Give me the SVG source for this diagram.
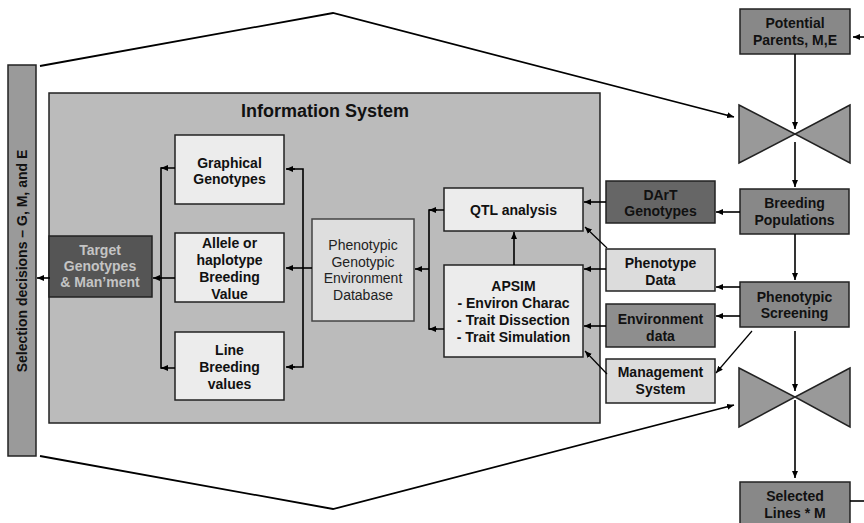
<svg xmlns="http://www.w3.org/2000/svg" width="864" height="523" viewBox="0 0 864 523">
<defs>
<marker id="ah" markerWidth="7" markerHeight="6" refX="7" refY="3" orient="auto" markerUnits="userSpaceOnUse">
<path d="M0,0 L7,3 L0,6 z" fill="#000"/>
</marker>
<style>
.b{stroke:#222;stroke-width:1.5}
.t{font-family:"Liberation Sans",Arial,sans-serif;font-size:14px;font-weight:bold;fill:#111;text-anchor:middle}
.n{font-weight:normal;fill:#222}
.c{fill:none;stroke:#000;stroke-width:1.6}
.a{marker-end:url(#ah)}
</style>
</defs>
<rect width="864" height="523" fill="#fff"/>
<g id="connectors">
<polyline class="c" points="40,66 333,13 734,117" style="stroke-width:1.8" marker-end="url(#ah)"/>
<polyline class="c" points="40,456 333,509 734,405" style="stroke-width:1.8" marker-end="url(#ah)"/>
</g>
<g id="selection-bar">
<rect x="8" y="65" width="28" height="391" fill="#9a9a9a" class="b"/>
<text class="t" transform="translate(27,261) rotate(-90)">Selection decisions – G, M, and E</text>
</g>
<g id="information-system">
<rect x="49" y="93" width="551" height="330" fill="#bbbbbb" class="b"/>
<text class="t" x="325" y="117" style="font-size:18px">Information System</text>
</g>
<g id="target">
<rect x="49" y="236" width="103" height="61" fill="#555" class="b"/>
<text class="t" x="100" y="255" style="fill:#c4c4c4">Target</text>
<text class="t" x="100" y="271" style="fill:#c4c4c4">Genotypes</text>
<text class="t" x="100" y="287" style="fill:#c4c4c4">&amp; Man’ment</text>
</g>
<g id="graphical-genotypes">
<rect x="175" y="135" width="109" height="69" fill="#ececec" class="b"/>
<text class="t" x="229.5" y="168">Graphical</text>
<text class="t" x="229.5" y="184">Genotypes</text>
</g>
<g id="allele">
<rect x="175" y="233" width="109" height="69" fill="#ececec" class="b"/>
<text class="t" x="229.5" y="248">Allele or</text>
<text class="t" x="229.5" y="265">haplotype</text>
<text class="t" x="229.5" y="282">Breeding</text>
<text class="t" x="229.5" y="299">Value</text>
</g>
<g id="line-breeding">
<rect x="175" y="332" width="109" height="68" fill="#ececec" class="b"/>
<text class="t" x="229.5" y="355">Line</text>
<text class="t" x="229.5" y="372">Breeding</text>
<text class="t" x="229.5" y="389">values</text>
</g>
<g id="database">
<rect x="312" y="219" width="102" height="102" fill="#dedede" class="b" style="stroke:#444"/>
<text class="t n" x="363" y="250">Phenotypic</text>
<text class="t n" x="363" y="267">Genotypic</text>
<text class="t n" x="363" y="283">Environment</text>
<text class="t n" x="363" y="300">Database</text>
</g>
<g id="qtl">
<rect x="444" y="188" width="139" height="43" fill="#ececec" class="b"/>
<text class="t" x="513.5" y="215">QTL analysis</text>
</g>
<g id="apsim">
<rect x="444" y="265" width="139" height="92" fill="#ececec" class="b"/>
<text class="t" x="513.5" y="291">APSIM</text>
<text class="t" x="513.5" y="308">- Environ Charac</text>
<text class="t" x="513.5" y="325">- Trait Dissection</text>
<text class="t" x="513.5" y="342">- Trait Simulation</text>
</g>
<g id="dart">
<rect x="606" y="181" width="109" height="42" fill="#666" class="b"/>
<text class="t" x="660.5" y="200">DArT</text>
<text class="t" x="660.5" y="216">Genotypes</text>
</g>
<g id="phenotype-data">
<rect x="606" y="249" width="109" height="42" fill="#dcdcdc" class="b"/>
<text class="t" x="660.5" y="268">Phenotype</text>
<text class="t" x="660.5" y="285">Data</text>
</g>
<g id="environment-data">
<rect x="606" y="304" width="109" height="43" fill="#8e8e8e" class="b"/>
<text class="t" x="660.5" y="324">Environment</text>
<text class="t" x="660.5" y="341">data</text>
</g>
<g id="management-system">
<rect x="606" y="359" width="109" height="44" fill="#dcdcdc" class="b"/>
<text class="t" x="660.5" y="377">Management</text>
<text class="t" x="660.5" y="394">System</text>
</g>
<g id="potential-parents">
<rect x="740" y="9" width="110" height="45" fill="#888" class="b"/>
<text class="t" x="795" y="28">Potential</text>
<text class="t" x="795" y="45">Parents, M,E</text>
</g>
<g id="crossing">
<path d="M739,105 L795,134 L739,163 Z M850,105 L795,134 L850,163 Z" fill="#999" class="b"/>
</g>
<g id="breeding-populations">
<rect x="740" y="189" width="109" height="45" fill="#888" class="b"/>
<text class="t" x="794.5" y="208">Breeding</text>
<text class="t" x="794.5" y="225">Populations</text>
</g>
<g id="phenotypic-screening">
<rect x="740" y="282" width="109" height="45" fill="#888" class="b"/>
<text class="t" x="794.5" y="302">Phenotypic</text>
<text class="t" x="794.5" y="318">Screening</text>
</g>
<g id="selection">
<path d="M739,368 L795,397 L739,427 Z M850,368 L795,397 L850,427 Z" fill="#999" class="b"/>
</g>
<g id="selected-lines">
<rect x="740" y="482" width="110" height="45" fill="#888" class="b"/>
<text class="t" x="795" y="501">Selected</text>
<text class="t" x="795" y="518">Lines * M</text>
</g>
<g id="connectors2">
<line class="c a" x1="50" y1="278" x2="37" y2="278"/>
<polyline class="c" points="175,168 161,168 161,368 175,368"/>
<line class="c a" x1="168" y1="168" x2="161" y2="168"/>
<line class="c a" x1="168" y1="368" x2="161" y2="368"/>
<line class="c a" x1="175" y1="278" x2="153" y2="278"/>
<polyline class="c" points="287,169 303,169 303,367 287,367"/>
<line class="c a" x1="295" y1="169" x2="286" y2="169"/>
<line class="c a" x1="295" y1="367" x2="286" y2="367"/>
<line class="c a" x1="312" y1="268" x2="286" y2="268"/>
<polyline class="c" points="444,210 429,210 429,329 444,329"/>
<line class="c a" x1="437" y1="210" x2="429" y2="210"/>
<line class="c a" x1="437" y1="329" x2="429" y2="329"/>
<line class="c a" x1="429" y1="269" x2="415" y2="269"/>
<line class="c a" x1="514" y1="265" x2="514" y2="232"/>
<line class="c a" x1="606" y1="202" x2="584" y2="202"/>
<line class="c a" x1="607" y1="248" x2="585" y2="227" style="stroke-width:1.2"/>
<line class="c a" x1="606" y1="269" x2="584" y2="269"/>
<line class="c a" x1="606" y1="326" x2="584" y2="326"/>
<line class="c a" x1="607" y1="374" x2="585" y2="351" style="stroke-width:1.2"/>
<line class="c a" x1="740" y1="212" x2="716" y2="212"/>
<line class="c a" x1="740" y1="287" x2="716" y2="287"/>
<line class="c a" x1="740" y1="316" x2="716" y2="316"/>
<line class="c a" x1="752" y1="331" x2="716" y2="373" style="stroke-width:1.2"/>
<line class="c a" x1="864" y1="37" x2="853" y2="37"/>
<line class="c a" x1="795" y1="54" x2="795" y2="129"/>
<line class="c a" x1="795" y1="142" x2="795" y2="187"/>
<line class="c a" x1="795" y1="234" x2="795" y2="280"/>
<line class="c a" x1="795" y1="331" x2="795" y2="391"/>
<line class="c a" x1="795" y1="400" x2="795" y2="478"/>
<line class="c" x1="850" y1="501" x2="864" y2="501"/>
</g>
</svg>
